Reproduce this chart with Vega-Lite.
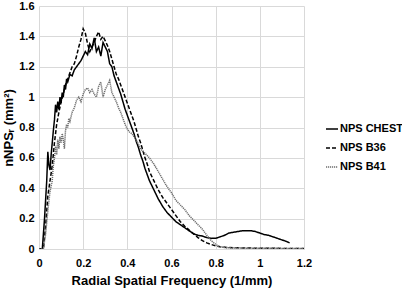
{
  "$schema": "https://vega.github.io/schema/vega-lite/v6.json",
  "width": 265,
  "height": 243,
  "autosize": "none",
  "padding": {"left": 39, "top": 6, "right": 98, "bottom": 41},
  "config": {"view": {"stroke": null}, "font": "Liberation Sans"},
  "data": {"values": [
      {"s":"NPS CHEST","f":0,"v":0},{"s":"NPS CHEST","f":0.015,"v":0},{"s":"NPS CHEST","f":0.025,"v":0.2},{"s":"NPS CHEST","f":0.035,"v":0.45},{"s":"NPS CHEST","f":0.04,"v":0.64},{"s":"NPS CHEST","f":0.045,"v":0.55},{"s":"NPS CHEST","f":0.05,"v":0.52},{"s":"NPS CHEST","f":0.055,"v":0.62},{"s":"NPS CHEST","f":0.06,"v":0.7},{"s":"NPS CHEST","f":0.065,"v":0.78},{"s":"NPS CHEST","f":0.07,"v":0.85},{"s":"NPS CHEST","f":0.075,"v":0.95},{"s":"NPS CHEST","f":0.08,"v":0.9},{"s":"NPS CHEST","f":0.085,"v":0.97},{"s":"NPS CHEST","f":0.09,"v":0.92},{"s":"NPS CHEST","f":0.095,"v":1.0},{"s":"NPS CHEST","f":0.1,"v":0.96},{"s":"NPS CHEST","f":0.105,"v":1.03},{"s":"NPS CHEST","f":0.11,"v":1.0},{"s":"NPS CHEST","f":0.115,"v":1.08},{"s":"NPS CHEST","f":0.12,"v":1.05},{"s":"NPS CHEST","f":0.125,"v":1.12},{"s":"NPS CHEST","f":0.13,"v":1.1},{"s":"NPS CHEST","f":0.14,"v":1.15},{"s":"NPS CHEST","f":0.15,"v":1.14},{"s":"NPS CHEST","f":0.16,"v":1.18},{"s":"NPS CHEST","f":0.17,"v":1.2},{"s":"NPS CHEST","f":0.18,"v":1.22},{"s":"NPS CHEST","f":0.19,"v":1.24},{"s":"NPS CHEST","f":0.2,"v":1.27},{"s":"NPS CHEST","f":0.21,"v":1.3},{"s":"NPS CHEST","f":0.22,"v":1.28},{"s":"NPS CHEST","f":0.23,"v":1.35},{"s":"NPS CHEST","f":0.24,"v":1.32},{"s":"NPS CHEST","f":0.25,"v":1.39},{"s":"NPS CHEST","f":0.26,"v":1.3},{"s":"NPS CHEST","f":0.27,"v":1.33},{"s":"NPS CHEST","f":0.28,"v":1.27},{"s":"NPS CHEST","f":0.29,"v":1.36},{"s":"NPS CHEST","f":0.3,"v":1.33},{"s":"NPS CHEST","f":0.31,"v":1.3},{"s":"NPS CHEST","f":0.32,"v":1.22},{"s":"NPS CHEST","f":0.33,"v":1.2},{"s":"NPS CHEST","f":0.34,"v":1.14},{"s":"NPS CHEST","f":0.35,"v":1.1},{"s":"NPS CHEST","f":0.36,"v":1.06},{"s":"NPS CHEST","f":0.37,"v":1.02},{"s":"NPS CHEST","f":0.38,"v":0.97},{"s":"NPS CHEST","f":0.39,"v":0.92},{"s":"NPS CHEST","f":0.4,"v":0.88},{"s":"NPS CHEST","f":0.41,"v":0.84},{"s":"NPS CHEST","f":0.42,"v":0.8},{"s":"NPS CHEST","f":0.43,"v":0.76},{"s":"NPS CHEST","f":0.44,"v":0.71},{"s":"NPS CHEST","f":0.45,"v":0.67},{"s":"NPS CHEST","f":0.46,"v":0.62},{"s":"NPS CHEST","f":0.47,"v":0.58},{"s":"NPS CHEST","f":0.48,"v":0.53},{"s":"NPS CHEST","f":0.49,"v":0.49},{"s":"NPS CHEST","f":0.5,"v":0.45},{"s":"NPS CHEST","f":0.52,"v":0.39},{"s":"NPS CHEST","f":0.54,"v":0.33},{"s":"NPS CHEST","f":0.56,"v":0.28},{"s":"NPS CHEST","f":0.58,"v":0.24},{"s":"NPS CHEST","f":0.6,"v":0.21},{"s":"NPS CHEST","f":0.62,"v":0.18},{"s":"NPS CHEST","f":0.64,"v":0.16},{"s":"NPS CHEST","f":0.66,"v":0.14},{"s":"NPS CHEST","f":0.68,"v":0.12},{"s":"NPS CHEST","f":0.7,"v":0.1},{"s":"NPS CHEST","f":0.72,"v":0.09},{"s":"NPS CHEST","f":0.74,"v":0.085},{"s":"NPS CHEST","f":0.76,"v":0.075},{"s":"NPS CHEST","f":0.78,"v":0.07},{"s":"NPS CHEST","f":0.8,"v":0.07},{"s":"NPS CHEST","f":0.82,"v":0.08},{"s":"NPS CHEST","f":0.84,"v":0.09},{"s":"NPS CHEST","f":0.86,"v":0.105},{"s":"NPS CHEST","f":0.88,"v":0.11},{"s":"NPS CHEST","f":0.9,"v":0.115},{"s":"NPS CHEST","f":0.92,"v":0.12},{"s":"NPS CHEST","f":0.94,"v":0.12},{"s":"NPS CHEST","f":0.96,"v":0.12},{"s":"NPS CHEST","f":0.98,"v":0.115},{"s":"NPS CHEST","f":1.0,"v":0.105},{"s":"NPS CHEST","f":1.02,"v":0.095},{"s":"NPS CHEST","f":1.04,"v":0.09},{"s":"NPS CHEST","f":1.06,"v":0.08},{"s":"NPS CHEST","f":1.08,"v":0.07},{"s":"NPS CHEST","f":1.1,"v":0.06},{"s":"NPS CHEST","f":1.12,"v":0.05},{"s":"NPS CHEST","f":1.135,"v":0.04},
      {"s":"NPS B36","f":0,"v":0},{"s":"NPS B36","f":0.02,"v":0},{"s":"NPS B36","f":0.03,"v":0.15},{"s":"NPS B36","f":0.04,"v":0.35},{"s":"NPS B36","f":0.05,"v":0.45},{"s":"NPS B36","f":0.06,"v":0.55},{"s":"NPS B36","f":0.07,"v":0.7},{"s":"NPS B36","f":0.08,"v":0.82},{"s":"NPS B36","f":0.09,"v":0.9},{"s":"NPS B36","f":0.1,"v":0.97},{"s":"NPS B36","f":0.11,"v":1.02},{"s":"NPS B36","f":0.12,"v":1.08},{"s":"NPS B36","f":0.13,"v":1.12},{"s":"NPS B36","f":0.14,"v":1.16},{"s":"NPS B36","f":0.15,"v":1.2},{"s":"NPS B36","f":0.16,"v":1.22},{"s":"NPS B36","f":0.17,"v":1.27},{"s":"NPS B36","f":0.18,"v":1.33},{"s":"NPS B36","f":0.19,"v":1.38},{"s":"NPS B36","f":0.2,"v":1.45},{"s":"NPS B36","f":0.21,"v":1.42},{"s":"NPS B36","f":0.22,"v":1.35},{"s":"NPS B36","f":0.23,"v":1.3},{"s":"NPS B36","f":0.24,"v":1.33},{"s":"NPS B36","f":0.25,"v":1.36},{"s":"NPS B36","f":0.26,"v":1.4},{"s":"NPS B36","f":0.27,"v":1.43},{"s":"NPS B36","f":0.28,"v":1.38},{"s":"NPS B36","f":0.29,"v":1.4},{"s":"NPS B36","f":0.3,"v":1.37},{"s":"NPS B36","f":0.31,"v":1.34},{"s":"NPS B36","f":0.32,"v":1.3},{"s":"NPS B36","f":0.33,"v":1.25},{"s":"NPS B36","f":0.34,"v":1.2},{"s":"NPS B36","f":0.35,"v":1.15},{"s":"NPS B36","f":0.36,"v":1.12},{"s":"NPS B36","f":0.37,"v":1.08},{"s":"NPS B36","f":0.38,"v":1.04},{"s":"NPS B36","f":0.39,"v":1.0},{"s":"NPS B36","f":0.4,"v":0.96},{"s":"NPS B36","f":0.41,"v":0.92},{"s":"NPS B36","f":0.42,"v":0.88},{"s":"NPS B36","f":0.43,"v":0.84},{"s":"NPS B36","f":0.44,"v":0.79},{"s":"NPS B36","f":0.45,"v":0.74},{"s":"NPS B36","f":0.46,"v":0.7},{"s":"NPS B36","f":0.47,"v":0.65},{"s":"NPS B36","f":0.48,"v":0.6},{"s":"NPS B36","f":0.49,"v":0.56},{"s":"NPS B36","f":0.5,"v":0.51},{"s":"NPS B36","f":0.52,"v":0.45},{"s":"NPS B36","f":0.54,"v":0.39},{"s":"NPS B36","f":0.56,"v":0.34},{"s":"NPS B36","f":0.58,"v":0.3},{"s":"NPS B36","f":0.6,"v":0.26},{"s":"NPS B36","f":0.62,"v":0.22},{"s":"NPS B36","f":0.64,"v":0.18},{"s":"NPS B36","f":0.66,"v":0.15},{"s":"NPS B36","f":0.68,"v":0.125},{"s":"NPS B36","f":0.7,"v":0.1},{"s":"NPS B36","f":0.72,"v":0.075},{"s":"NPS B36","f":0.74,"v":0.055},{"s":"NPS B36","f":0.76,"v":0.04},{"s":"NPS B36","f":0.78,"v":0.03},{"s":"NPS B36","f":0.8,"v":0.02},{"s":"NPS B36","f":0.82,"v":0.015},{"s":"NPS B36","f":0.85,"v":0.01},{"s":"NPS B36","f":0.9,"v":0.008},{"s":"NPS B36","f":0.95,"v":0.006},{"s":"NPS B36","f":1.0,"v":0.005},{"s":"NPS B36","f":1.1,"v":0.004},{"s":"NPS B36","f":1.2,"v":0.003},
      {"s":"NPS B41","f":0,"v":0},{"s":"NPS B41","f":0.02,"v":0},{"s":"NPS B41","f":0.03,"v":0.1},{"s":"NPS B41","f":0.04,"v":0.25},{"s":"NPS B41","f":0.05,"v":0.38},{"s":"NPS B41","f":0.06,"v":0.45},{"s":"NPS B41","f":0.065,"v":0.55},{"s":"NPS B41","f":0.07,"v":0.6},{"s":"NPS B41","f":0.075,"v":0.68},{"s":"NPS B41","f":0.08,"v":0.62},{"s":"NPS B41","f":0.085,"v":0.72},{"s":"NPS B41","f":0.09,"v":0.66},{"s":"NPS B41","f":0.095,"v":0.74},{"s":"NPS B41","f":0.1,"v":0.7},{"s":"NPS B41","f":0.105,"v":0.76},{"s":"NPS B41","f":0.11,"v":0.72},{"s":"NPS B41","f":0.115,"v":0.66},{"s":"NPS B41","f":0.12,"v":0.78},{"s":"NPS B41","f":0.125,"v":0.82},{"s":"NPS B41","f":0.13,"v":0.8},{"s":"NPS B41","f":0.135,"v":0.86},{"s":"NPS B41","f":0.14,"v":0.84},{"s":"NPS B41","f":0.15,"v":0.9},{"s":"NPS B41","f":0.16,"v":0.93},{"s":"NPS B41","f":0.17,"v":0.98},{"s":"NPS B41","f":0.18,"v":1.0},{"s":"NPS B41","f":0.19,"v":0.97},{"s":"NPS B41","f":0.2,"v":1.02},{"s":"NPS B41","f":0.21,"v":1.05},{"s":"NPS B41","f":0.22,"v":1.06},{"s":"NPS B41","f":0.23,"v":1.03},{"s":"NPS B41","f":0.24,"v":1.05},{"s":"NPS B41","f":0.25,"v":1.02},{"s":"NPS B41","f":0.26,"v":1.0},{"s":"NPS B41","f":0.27,"v":1.07},{"s":"NPS B41","f":0.28,"v":1.1},{"s":"NPS B41","f":0.29,"v":1.0},{"s":"NPS B41","f":0.3,"v":1.05},{"s":"NPS B41","f":0.31,"v":1.08},{"s":"NPS B41","f":0.32,"v":1.11},{"s":"NPS B41","f":0.33,"v":1.03},{"s":"NPS B41","f":0.34,"v":1.0},{"s":"NPS B41","f":0.35,"v":0.97},{"s":"NPS B41","f":0.36,"v":0.93},{"s":"NPS B41","f":0.37,"v":0.9},{"s":"NPS B41","f":0.38,"v":0.86},{"s":"NPS B41","f":0.39,"v":0.82},{"s":"NPS B41","f":0.4,"v":0.79},{"s":"NPS B41","f":0.41,"v":0.77},{"s":"NPS B41","f":0.42,"v":0.76},{"s":"NPS B41","f":0.43,"v":0.74},{"s":"NPS B41","f":0.44,"v":0.72},{"s":"NPS B41","f":0.46,"v":0.66},{"s":"NPS B41","f":0.48,"v":0.63},{"s":"NPS B41","f":0.5,"v":0.6},{"s":"NPS B41","f":0.52,"v":0.56},{"s":"NPS B41","f":0.54,"v":0.51},{"s":"NPS B41","f":0.56,"v":0.46},{"s":"NPS B41","f":0.58,"v":0.41},{"s":"NPS B41","f":0.6,"v":0.37},{"s":"NPS B41","f":0.62,"v":0.32},{"s":"NPS B41","f":0.64,"v":0.29},{"s":"NPS B41","f":0.66,"v":0.26},{"s":"NPS B41","f":0.68,"v":0.22},{"s":"NPS B41","f":0.7,"v":0.19},{"s":"NPS B41","f":0.72,"v":0.16},{"s":"NPS B41","f":0.74,"v":0.13},{"s":"NPS B41","f":0.76,"v":0.09},{"s":"NPS B41","f":0.78,"v":0.055},{"s":"NPS B41","f":0.8,"v":0.03},{"s":"NPS B41","f":0.82,"v":0.014},{"s":"NPS B41","f":0.85,"v":0.008},{"s":"NPS B41","f":0.9,"v":0.006},{"s":"NPS B41","f":1.0,"v":0.005},{"s":"NPS B41","f":1.1,"v":0.004},{"s":"NPS B41","f":1.2,"v":0.004}
  ]},
  "mark": {"type": "line", "clip": true},
  "encoding": {
    "x": {"field": "f", "type": "quantitative", "scale": {"domain": [0, 1.2], "nice": false},
      "axis": {"values": [0, 0.2, 0.4, 0.6, 0.8, 1, 1.2], "format": "~g", "title": "Radial Spatial Frequency (1/mm)", "grid": true, "gridColor": "#d9d9d9", "gridWidth": 1, "domain": true, "domainColor": "#d9d9d9", "ticks": false, "labelPadding": 8, "labelFontSize": 11, "labelFontWeight": "bold", "labelColor": "#000", "titleFontSize": 13, "titleFontWeight": "bold", "titleColor": "#000", "titlePadding": 6, "labelFlush": false}},
    "y": {"field": "v", "type": "quantitative", "scale": {"domain": [0, 1.6], "nice": false},
      "axis": {"values": [0, 0.2, 0.4, 0.6, 0.8, 1, 1.2, 1.4, 1.6], "format": "~g", "title": "nNPSᵣ (mm²)", "grid": true, "gridColor": "#d9d9d9", "gridWidth": 1, "domain": false, "ticks": false, "labelPadding": 5, "labelFontSize": 11, "labelFontWeight": "bold", "labelColor": "#000", "titleFontSize": 13, "titleFontWeight": "bold", "titleColor": "#000", "titlePadding": 3, "labelFlush": false}},
    "color": {"field": "s", "type": "nominal", "scale": {"domain": ["NPS CHEST", "NPS B36", "NPS B41"], "range": ["#000000", "#000000", "#6e6e6e"]},
      "legend": {"orient": "none", "legendX": 286, "legendY": 116, "title": null, "symbolType": "stroke", "symbolSize": 144, "symbolStrokeWidth": 1.5, "labelFontSize": 11, "labelFontWeight": "bold", "labelColor": "#000", "labelOffset": 1, "rowPadding": 7}},
    "strokeDash": {"field": "s", "type": "nominal", "scale": {"domain": ["NPS CHEST", "NPS B36", "NPS B41"], "range": [[1, 0], [4, 2], [1.2, 0.8]]}},
    "strokeWidth": {"field": "s", "type": "nominal", "scale": {"domain": ["NPS CHEST", "NPS B36", "NPS B41"], "range": [1.5, 1.5, 1.1]}}
  }
}
